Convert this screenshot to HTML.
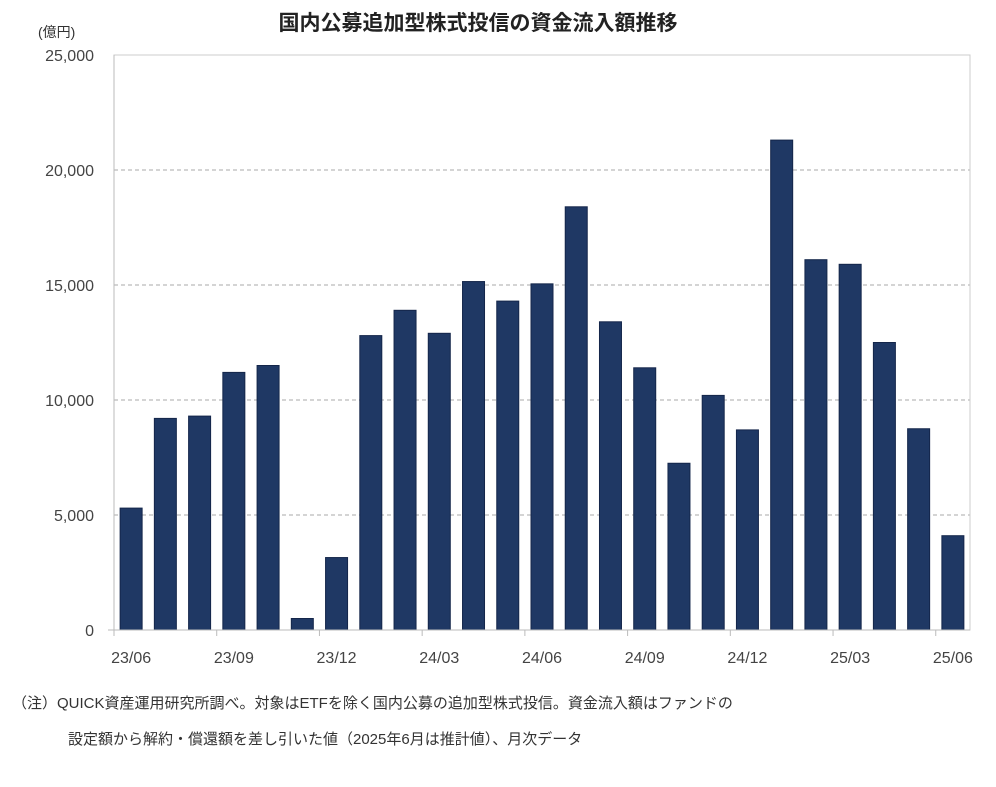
<!DOCTYPE html>
<html><head><meta charset="utf-8"><style>
body{margin:0;background:#fff;width:996px;height:782px;overflow:hidden;font-family:"Liberation Sans","Noto Sans CJK JP",sans-serif}
</style></head><body>
<svg id="chart" width="996" height="782" xmlns="http://www.w3.org/2000/svg" font-family="Liberation Sans, Noto Sans CJK JP, sans-serif">
<text x="478" y="30" text-anchor="middle" font-size="21" font-weight="bold" fill="#222">国内公募追加型株式投信の資金流入額推移</text>
<text x="38" y="37" font-size="14" fill="#333">(億円)</text>
<g id="grid"></g><g id="bars"></g><g id="axes"></g>
<text x="12" y="708" font-size="15" fill="#333">（注）QUICK資産運用研究所調べ。対象はETFを除く国内公募の追加型株式投信。資金流入額はファンドの</text>
<text x="68" y="744" font-size="15" fill="#333">設定額から解約・償還額を差し引いた値（2025年6月は推計値）、月次データ</text>
</svg>
<script>
const categories=["23/06","23/07","23/08","23/09","23/10","23/11","23/12","24/01","24/02","24/03","24/04","24/05","24/06","24/07","24/08","24/09","24/10","24/11","24/12","25/01","25/02","25/03","25/04","25/05","25/06"];
const values=[5300,9200,9300,11200,11500,500,3150,12800,13900,12900,15150,14300,15050,18400,13400,11400,7250,10200,8700,21300,16100,15900,12500,8750,4100];
const yTicks=[0,5000,10000,15000,20000,25000];
const yTickLabels=["0","5,000","10,000","15,000","20,000","25,000"];
const xLabelIdx=[0,3,6,9,12,15,18,21,24];
const NS="http://www.w3.org/2000/svg";
const L=114,R=970,T=55,B=630,yMax=25000;
const step=(R-L)/categories.length,bw=22;
const y=v=>B-(v/yMax)*(B-T);
const x=i=>L+step*i+step/2;
function mk(t,a,p){const e=document.createElementNS(NS,t);for(const k in a)e.setAttribute(k,a[k]);p.appendChild(e);return e;}
const grid=document.getElementById('grid'),bars=document.getElementById('bars'),axes=document.getElementById('axes');
yTicks.forEach((v,i)=>{
 if(v>0){const g=mk('line',{x1:L,x2:R,y1:y(v),y2:y(v),stroke:'#aaa','stroke-dasharray':'4,3','stroke-width':1},grid);
 
 }
 const t=mk('text',{x:L-20,y:y(v)+6,'text-anchor':'end','font-size':16,fill:'#444'},axes);t.textContent=yTickLabels[i];
 
 
});
mk('rect',{x:L,y:T,width:R-L,height:B-T,fill:'none',stroke:'#ccc'},grid);
values.forEach((v,i)=>{
 const r=mk('rect',{x:x(i)-bw/2,y:y(v),width:bw,height:B-y(v),fill:'#1f3864',stroke:'#14264a','stroke-width':1},bars);
 
 
});
mk('line',{x1:L,x2:L,y1:T,y2:B,stroke:'#bbb'},axes);
mk('line',{x1:L-6,x2:R,y1:B,y2:B,stroke:'#bbb'},axes);
for(let i=0;i<=categories.length;i+=3){mk('line',{x1:L+step*i,x2:L+step*i,y1:B,y2:B+6,stroke:'#bbb'},axes);}
xLabelIdx.forEach(i=>{const t=mk('text',{x:x(i),y:B+33,'text-anchor':'middle','font-size':16,fill:'#444'},axes);t.textContent=categories[i];
 
 });
</script>
</body></html>
